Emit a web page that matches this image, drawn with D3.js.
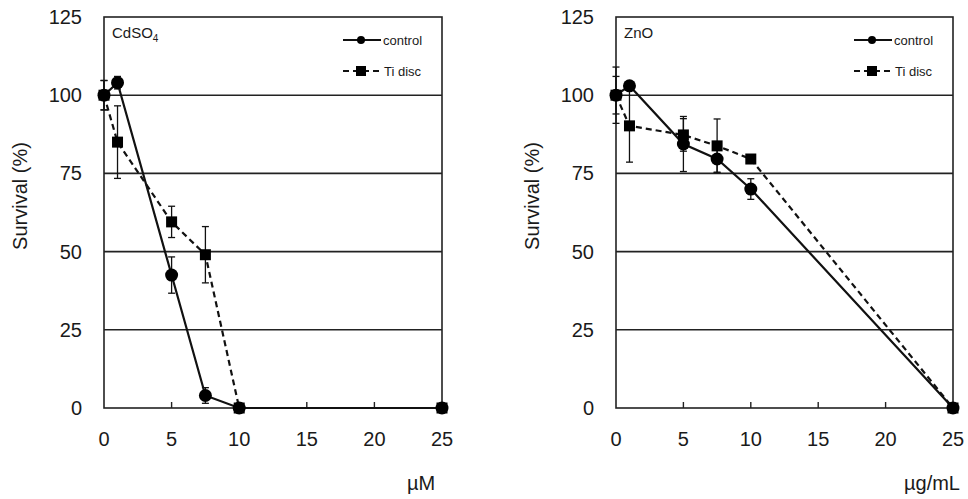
<!DOCTYPE html>
<html>
<head>
<meta charset="utf-8">
<script src="https://cdn.jsdelivr.net/npm/d3@7"></script>
<style>
  body { margin: 0; background: #fff; }
  text { font-family: "Liberation Sans", Arial, sans-serif; fill: #1a1a1a; }
</style>
</head>
<body>
<div id="chart"></div>
<script>
// doses and tick values
var doses = [0, 1, 5, 7.5, 10, 25];
var xTicks = [0, 5, 10, 15, 20, 25];
var yTicks = [0, 25, 50, 75, 100, 125];
var seriesNames = ["control", "Ti disc"];

// CdSO4 panel (uM)
var cdControl = [100, 104, 42.5, 4, 0, 0];
var cdControlErr = [4.7, 2, 5.8, 2.5, 0, 0];
var cdTi = [100, 85, 59.5, 49, 0, 0];
var cdTiErr = [4.7, 11.6, 5, 9, 0, 0];

// ZnO panel (ug/mL)
var znControl = [100, 103, 84.4, 79.6, 70, 0];
var znControlErr = [6, 0, 8.8, 4.2, 3.3, 0];
var znTi = [100, 90.2, 87.3, 83.8, 79.6, 0];
var znTiErr = [9, 11.6, 5.2, 8.6, 1, 0];

var width = 968, height = 499;
var svg = d3.select("#chart").append("svg")
    .attr("width", width)
    .attr("height", height);

var panels = [
  {left: 104, right: 442, title: "CdSO", sub: "4", unit: "\u00b5M", ylab: 20,
   control: cdControl, controlErr: cdControlErr, ti: cdTi, tiErr: cdTiErr},
  {left: 616, right: 953, title: "ZnO", sub: "", unit: "\u00b5g/mL", ylab: 532,
   control: znControl, controlErr: znControlErr, ti: znTi, tiErr: znTiErr}
];

var plotTop = 17, plotBottom = 408;

panels.forEach(function(p) {
  var x = d3.scaleLinear().domain([0, 25]).range([p.left, p.right]);
  var y = d3.scaleLinear().domain([0, 125]).range([plotBottom, plotTop]);
  var g = svg.append("g");

  // gridlines
  g.selectAll(".grid").data(yTicks.filter(d => d > 0 && d < 125))
    .join("line")
      .attr("x1", x(0)).attr("x2", x(25))
      .attr("y1", d => y(d)).attr("y2", d => y(d))
      .attr("stroke", "#222").attr("stroke-width", 1.6);

  // frame
  g.append("rect")
    .attr("x", x(0)).attr("y", y(125))
    .attr("width", x(25) - x(0)).attr("height", y(0) - y(125))
    .attr("fill", "none").attr("stroke", "#222").attr("stroke-width", 1.6);

  // x ticks pointing inward
  g.selectAll(".xt").data(xTicks.filter(d => d > 0 && d < 25))
    .join("line")
      .attr("x1", d => x(d)).attr("x2", d => x(d))
      .attr("y1", y(0)).attr("y2", y(0) - 6)
      .attr("stroke", "#222").attr("stroke-width", 1.4);

  // tick labels
  g.selectAll(".yl").data(yTicks)
    .join("text")
      .attr("x", x(0) - 22).attr("y", d => y(d) + 7)
      .attr("text-anchor", "end")
      .style("font-size", "20px")
      .text(d => d);
  g.selectAll(".xl").data(xTicks)
    .join("text")
      .attr("x", d => x(d)).attr("y", y(0) + 38)
      .attr("text-anchor", "middle")
      .style("font-size", "20px")
      .text(d => d);

  g.append("text")
    .attr("x", p.right - 21).attr("y", 490)
    .attr("text-anchor", "middle")
    .style("font-size", "20px")
    .text(p.unit);

  g.append("text")
    .attr("transform", "translate(" + (p.ylab + 7) + ",196) rotate(-90)")
    .attr("text-anchor", "middle")
    .style("font-size", "20px")
    .text("Survival (%)");

  var t = g.append("text")
    .attr("x", x(0) + 8).attr("y", 38)
    .style("font-size", "15px")
    .text(p.title);
  if (p.sub) t.append("tspan").attr("dy", 4).style("font-size", "10px").text(p.sub);

  var line = d3.line().x((d, i) => x(doses[i])).y(d => y(d));

  function errBars(vals, errs) {
    var data = vals.map((v, i) => ({x: doses[i], v: v, e: errs[i]})).filter(d => d.e > 0);
    var eg = g.append("g").attr("stroke", "#111").attr("stroke-width", 1.3);
    data.forEach(function(d) {
      eg.append("line").attr("x1", x(d.x)).attr("x2", x(d.x))
        .attr("y1", y(d.v + d.e)).attr("y2", y(d.v - d.e));
      [d.v + d.e, d.v - d.e].forEach(function(c) {
        eg.append("line").attr("x1", x(d.x) - 3.5).attr("x2", x(d.x) + 3.5)
          .attr("y1", y(c)).attr("y2", y(c));
      });
    });
  }

  errBars(p.ti, p.tiErr);
  errBars(p.control, p.controlErr);

  g.append("path").datum(p.ti)
    .attr("d", line).attr("fill", "none")
    .attr("stroke", "#111").attr("stroke-width", 2.2)
    .attr("stroke-dasharray", "6,4");
  g.append("path").datum(p.control)
    .attr("d", line).attr("fill", "none")
    .attr("stroke", "#111").attr("stroke-width", 2.2);

  g.selectAll(".sq").data(p.ti)
    .join("rect")
      .attr("x", (d, i) => x(doses[i]) - 5.5)
      .attr("y", d => y(d) - 5.5)
      .attr("width", 11).attr("height", 11)
      .attr("fill", "#000");
  g.selectAll(".ci").data(p.control)
    .join("circle")
      .attr("cx", (d, i) => x(doses[i]))
      .attr("cy", d => y(d))
      .attr("r", 6.5)
      .attr("fill", "#000");

  // legend
  var lx = p.right - 99;
  var lg = g.append("g");
  lg.append("line").attr("x1", lx).attr("x2", lx + 38).attr("y1", 40).attr("y2", 40)
    .attr("stroke", "#111").attr("stroke-width", 2);
  lg.append("circle").attr("cx", lx + 18).attr("cy", 40).attr("r", 4).attr("fill", "#000");
  lg.append("text").attr("x", lx + 40).attr("y", 45).style("font-size", "13px").text(seriesNames[0]);
  lg.append("line").attr("x1", lx).attr("x2", lx + 38).attr("y1", 71).attr("y2", 71)
    .attr("stroke", "#111").attr("stroke-width", 2).attr("stroke-dasharray", "6,4");
  lg.append("rect").attr("x", lx + 13).attr("y", 66).attr("width", 10).attr("height", 10).attr("fill", "#000");
  lg.append("text").attr("x", lx + 41).attr("y", 76).style("font-size", "13px").text(seriesNames[1]);
});
</script>
</body>
</html>
